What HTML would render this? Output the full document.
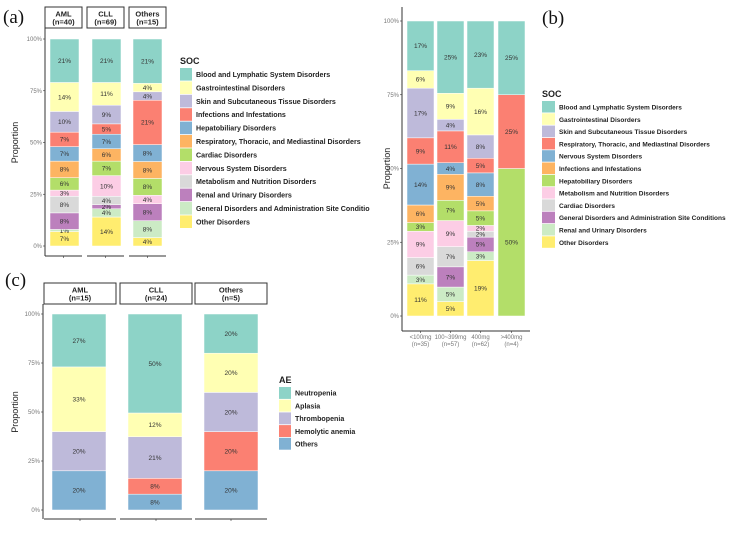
<!DOCTYPE html>
<html><head><meta charset="utf-8"><style>
html,body{margin:0;padding:0;background:#fff;}
svg{display:block;font-family:"Liberation Sans",Arial,sans-serif;}
.tick{font-size:6px;fill:#777;}
.seg{font-size:6.5px;fill:#333;}
.leg{font-weight:bold;fill:#222;}
.lt{font-size:9px;font-weight:bold;fill:#222;}
.strip{font-size:7.5px;font-weight:bold;fill:#222;}
.plab{font-family:"Liberation Serif",serif;font-size:19px;fill:#111;}
</style></head><body>
<svg id="fig" width="729" height="535" viewBox="0 0 729 535">
<defs><clipPath id="clipA"><rect x="0" y="0" width="370" height="270"/></clipPath></defs>
<g id="gA" clip-path="url(#clipA)"></g>
<g id="gB"></g>
<g id="gC"></g>
</svg>
<script>
// Panel (a): SOC by disease, stacked bottom-to-top
const aCategories = ["AML\n(n=40)", "CLL\n(n=69)", "Others\n(n=15)"];
const aSeries = ["Other Disorders","General Disorders and Administration Site Conditions","Renal and Urinary Disorders","Metabolism and Nutrition Disorders","Nervous System Disorders","Cardiac Disorders","Respiratory, Thoracic, and Mediastinal Disorders","Hepatobiliary Disorders","Infections and Infestations","Skin and Subcutaneous Tissue Disorders","Gastrointestinal Disorders","Blood and Lymphatic System Disorders"];
const aAML = [7,1,8,8,3,6,8,7,7,10,14,21];
const aCLL = [14,4,2,4,10,7,6,7,5,9,11,21];
const aOthers = [4,8,8,0,4,8,8,8,21,4,4,21];
const aLegend = ["Blood and Lymphatic System Disorders","Gastrointestinal Disorders","Skin and Subcutaneous Tissue Disorders","Infections and Infestations","Hepatobiliary Disorders","Respiratory, Thoracic, and Mediastinal Disorders","Cardiac Disorders","Nervous System Disorders","Metabolism and Nutrition Disorders","Renal and Urinary Disorders","General Disorders and Administration Site Conditions","Other Disorders"];
// Panel (b): SOC by dose
const bCategories = ["<100mg\n(n=35)", "100~399mg\n(n=57)", "400mg\n(n=62)", ">400mg\n(n=4)"];
const bSeries = ["Other Disorders","Renal and Urinary Disorders","General Disorders and Administration Site Conditions","Cardiac Disorders","Metabolism and Nutrition Disorders","Hepatobiliary Disorders","Infections and Infestations","Nervous System Disorders","Respiratory, Thoracic, and Mediastinal Disorders","Skin and Subcutaneous Tissue Disorders","Gastrointestinal Disorders","Blood and Lymphatic System Disorders"];
const bLow = [11,3,0,6,9,3,6,14,9,17,6,17];
const bMid = [5,5,7,7,9,7,9,4,11,4,9,25];
const b400 = [19,3,5,2,2,5,5,8,5,8,16,23];
const bHigh = [0,0,0,0,0,50,0,0,25,0,0,25];
const bLegend = ["Blood and Lymphatic System Disorders","Gastrointestinal Disorders","Skin and Subcutaneous Tissue Disorders","Respiratory, Thoracic, and Mediastinal Disorders","Nervous System Disorders","Infections and Infestations","Hepatobiliary Disorders","Metabolism and Nutrition Disorders","Cardiac Disorders","General Disorders and Administration Site Conditions","Renal and Urinary Disorders","Other Disorders"];
// Panel (c): AE by disease
const cCategories = ["AML\n(n=15)", "CLL\n(n=24)", "Others\n(n=5)"];
const cSeries = ["Others","Hemolytic anemia","Thrombopenia","Aplasia","Neutropenia"];
const cAML = [20,0,20,33,27];
const cCLL = [8,8,21,12,50];
const cOthers = [20,20,20,20,20];
const cLegend = ["Neutropenia","Aplasia","Thrombopenia","Hemolytic anemia","Others"];
const yTicks = ["0%","25%","50%","75%","100%"];

const set3 = ["#8DD3C7","#FFFFB3","#BEBADA","#FB8072","#80B1D3","#FDB462","#B3DE69","#FCCDE5","#D9D9D9","#BC80BD","#CCEBC5","#FFED6F"];
const NS="http://www.w3.org/2000/svg";
function mk(parent, tag, attrs, text){
  const e=document.createElementNS(NS,tag);
  for(const k in attrs) e.setAttribute(k,attrs[k]);
  if(text!==undefined) e.textContent=text;
  parent.appendChild(e); return e;
}
function slug(s){return s.toLowerCase().replace(/[^a-z0-9]+/g,'-').replace(/^-|-$/g,'');}

function panel(g, cfg){
  const y = v => cfg.y0 - (cfg.y0-cfg.y100)*v/100;
  const ax=mk(g,'line',{x1:cfg.axX,x2:cfg.axX,y1:cfg.axTop,y2:cfg.axBot,stroke:'#333','stroke-width':1});
  
  
  yTicks.forEach((t,i)=>{
    const v=i*25;
    const tl=mk(g,'line',{x1:cfg.axX-2,x2:cfg.axX,y1:y(v),y2:y(v),stroke:'#333','stroke-width':0.6});
    
    
    const tx=mk(g,'text',{x:cfg.axX-3,y:y(v)+2,'text-anchor':'end',class:'tick'},t);
    
    
  });
  const yl=mk(g,'text',{x:0,y:0,transform:`translate(${cfg.ylX},${(cfg.y0+cfg.y100)/2}) rotate(-90)`,'text-anchor':'middle','font-size':'9px',fill:'#222'},'Proportion');
  
  
  cfg.data.forEach((vals,ci)=>{
    const sum=vals.reduce((a,b)=>a+b,0);
    let acc=0;
    const bx=cfg.barX[ci], bw=cfg.barW;
    vals.forEach((v,si)=>{
      if(v<=0) return;
      const v0=acc/sum*100, v1=(acc+v)/sum*100; acc+=v;
      const col=set3[cfg.legend.indexOf(cfg.series[si])];
      const r=mk(g,'rect',{x:bx,y:y(v1),width:bw,height:y(v0)-y(v1),fill:col,stroke:'#fff','stroke-width':0.5});
      
      
      const t=mk(g,'text',{x:bx+bw/2,y:(y(v0)+y(v1))/2+2.3,'text-anchor':'middle',class:'seg'},v+'%');
      
      
    });
  });
  cfg.cats.forEach((c,ci)=>{
    const parts=c.split('\n');
    if(cfg.strips){
      const s=cfg.strips[ci];
      const sr=mk(g,'rect',{x:s[0],y:cfg.stripY,width:s[1]-s[0],height:cfg.stripH,fill:'#fff',stroke:'#333','stroke-width':1});
      
      
      const cx=(s[0]+s[1])/2;
      const t1=mk(g,'text',{x:cx,y:cfg.stripY+cfg.stripH/2-1,'text-anchor':'middle',class:'strip'},parts[0]);
      
      
      const t2=mk(g,'text',{x:cx,y:cfg.stripY+cfg.stripH/2+7,'text-anchor':'middle',class:'strip'},parts[1]);
      
      
      const xl=mk(g,'line',{x1:s[0],x2:s[1],y1:cfg.axBot,y2:cfg.axBot,stroke:'#333','stroke-width':1});
      
      
      const xt=mk(g,'line',{x1:cx,x2:cx,y1:cfg.axBot,y2:cfg.axBot+2,stroke:'#333','stroke-width':0.6});
      
      
    } else {
      const cx=cfg.barX[ci]+cfg.barW/2;
      const xt=mk(g,'line',{x1:cx,x2:cx,y1:cfg.axBot,y2:cfg.axBot+2,stroke:'#333','stroke-width':0.6});
      
      
      const t1=mk(g,'text',{x:cx,y:cfg.axBot+8,'text-anchor':'middle',class:'tick'},parts[0]);
      
      
      const t2=mk(g,'text',{x:cx,y:cfg.axBot+15,'text-anchor':'middle',class:'tick'},parts[1]);
      
      
    }
  });
  if(!cfg.strips){
    const xl=mk(g,'line',{x1:cfg.axX,x2:cfg.axEnd,y1:cfg.axBot,y2:cfg.axBot,stroke:'#333','stroke-width':1});
    
    
  }
  const lt=mk(g,'text',{x:cfg.legX,y:cfg.legTitleY,class:'lt'},cfg.legTitle);
  
  
  cfg.legend.forEach((name,i)=>{
    const yy=cfg.legY+i*cfg.legStep;
    const k=mk(g,'rect',{x:cfg.legX,y:yy,width:cfg.keyW,height:cfg.legStep-0.8,fill:set3[i]});
    
    
    const t=mk(g,'text',{x:cfg.legX+cfg.keyW+4,y:yy+cfg.legStep/2+2.3,class:'leg','font-size':cfg.legFont},name);
    
    
  });
  const pl=mk(g,'text',{x:cfg.pX,y:cfg.pY,class:'plab'},cfg.pLabel);
  
  
}

panel(document.getElementById('gA'),{
  data:[aAML,aCLL,aOthers],cats:aCategories,series:aSeries,legend:aLegend,
  y0:246,y100:39,axX:45,axTop:28,axBot:256,ylX:18,
  barX:[50,92,133],barW:29,
  strips:[[45,82],[87,124],[129,166]],stripY:7,stripH:21,
  legX:180,legTitleY:64,legY:68,legStep:13.4,keyW:12,legTitle:'SOC',legFont:'7.1px',
  pX:3,pY:23,pLabel:'(a)'
});
panel(document.getElementById('gB'),{
  data:[bLow,bMid,b400,bHigh],cats:bCategories,series:bSeries,legend:bLegend,
  y0:316,y100:21,axX:402,axTop:7,axBot:331,axEnd:530,ylX:390,
  barX:[407,437,467,498],barW:27,
  legX:542,legTitleY:97,legY:101,legStep:12.3,keyW:13,legTitle:'SOC',legFont:'6.5px',
  pX:542,pY:24,pLabel:'(b)'
});
panel(document.getElementById('gC'),{
  data:[cAML,cCLL,cOthers],cats:cCategories,series:cSeries,legend:cLegend,
  y0:510,y100:314,axX:43,axTop:304,axBot:519,ylX:18,
  barX:[52,128,204],barW:54,
  strips:[[44,116],[120,192],[195,267]],stripY:283,stripH:21,
  legX:279,legTitleY:383,legY:387,legStep:12.7,keyW:12,legTitle:'AE',legFont:'7.1px',
  pX:5,pY:286,pLabel:'(c)'
});
</script>
</body></html>
